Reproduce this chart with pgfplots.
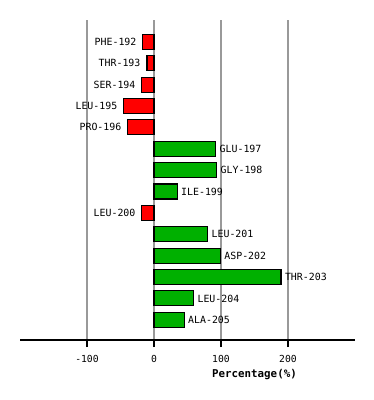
\documentclass[border=0pt]{standalone}
\usepackage{pgfplots}
\pgfplotsset{compat=1.18}
\usepackage{pgfplotstable}
\usepackage{fontspec}
\setmainfont{DejaVu Sans Mono}
\definecolor{barred}{RGB}{255,0,0}
\definecolor{bargreen}{RGB}{0,176,0}
\definecolor{gridgray}{RGB}{153,153,153}
\pgfplotstableread{
y x label
13 -16.5 PHE-192
12 -10.5 THR-193
11 -18 SER-194
10 -45 LEU-195
9 -39 PRO-196
5 -18 LEU-200
}\negdata
\pgfplotstableread{
y x label
8 92 GLU-197
7 93.5 GLY-198
6 34.5 ILE-199
4 80 LEU-201
3 99 ASP-202
2 189.5 THR-203
1 59 LEU-204
0 45 ALA-205
}\posdata
\begin{document}
\begin{tikzpicture}
\useasboundingbox (0,0) rectangle (374pt,400pt);
\begin{axis}[
  at={(20pt,60pt)}, anchor=south west,
  scale only axis, width=335pt, height=320pt,
  xmin=-200, xmax=300, ymin=-0.945, ymax=14.02,
  axis x line*=bottom, axis y line=none,
  x axis line style={line width=1.1pt, black},
  xtick={-100,0,100,200}, xticklabels={-100,0,100,200},
  tick align=outside, major tick length=7pt,
  xtick style={line width=1.1pt, black},
  xmajorgrids, grid style={draw=gridgray, line width=1.1pt},
  ticklabel style={font=\fontsize{9.7}{10}\selectfont, yshift=-5pt},
  xlabel={\bfseries Percentage(\%)},
  xlabel style={at={(rel axis cs:0.7,0)}, anchor=center, yshift=-35pt, font=\fontsize{10.8}{11}\selectfont},
  xbar, bar width=15pt, bar shift=0pt,
  clip=false,
  nodes near coords, point meta=explicit symbolic,
  every node near coord/.append style={font=\fontsize{9.9}{10}\selectfont, inner sep=0pt},
]
\addplot[fill=barred, draw=black, line width=1.1pt,
  every node near coord/.append style={anchor=east, xshift=-6pt}]
  table[x=x, y=y, meta=label] {\negdata};
\addplot[fill=bargreen, draw=black, line width=1.1pt,
  every node near coord/.append style={anchor=west, xshift=3.5pt}]
  table[x=x, y=y, meta=label] {\posdata};
\end{axis}
\end{tikzpicture}
\end{document}
